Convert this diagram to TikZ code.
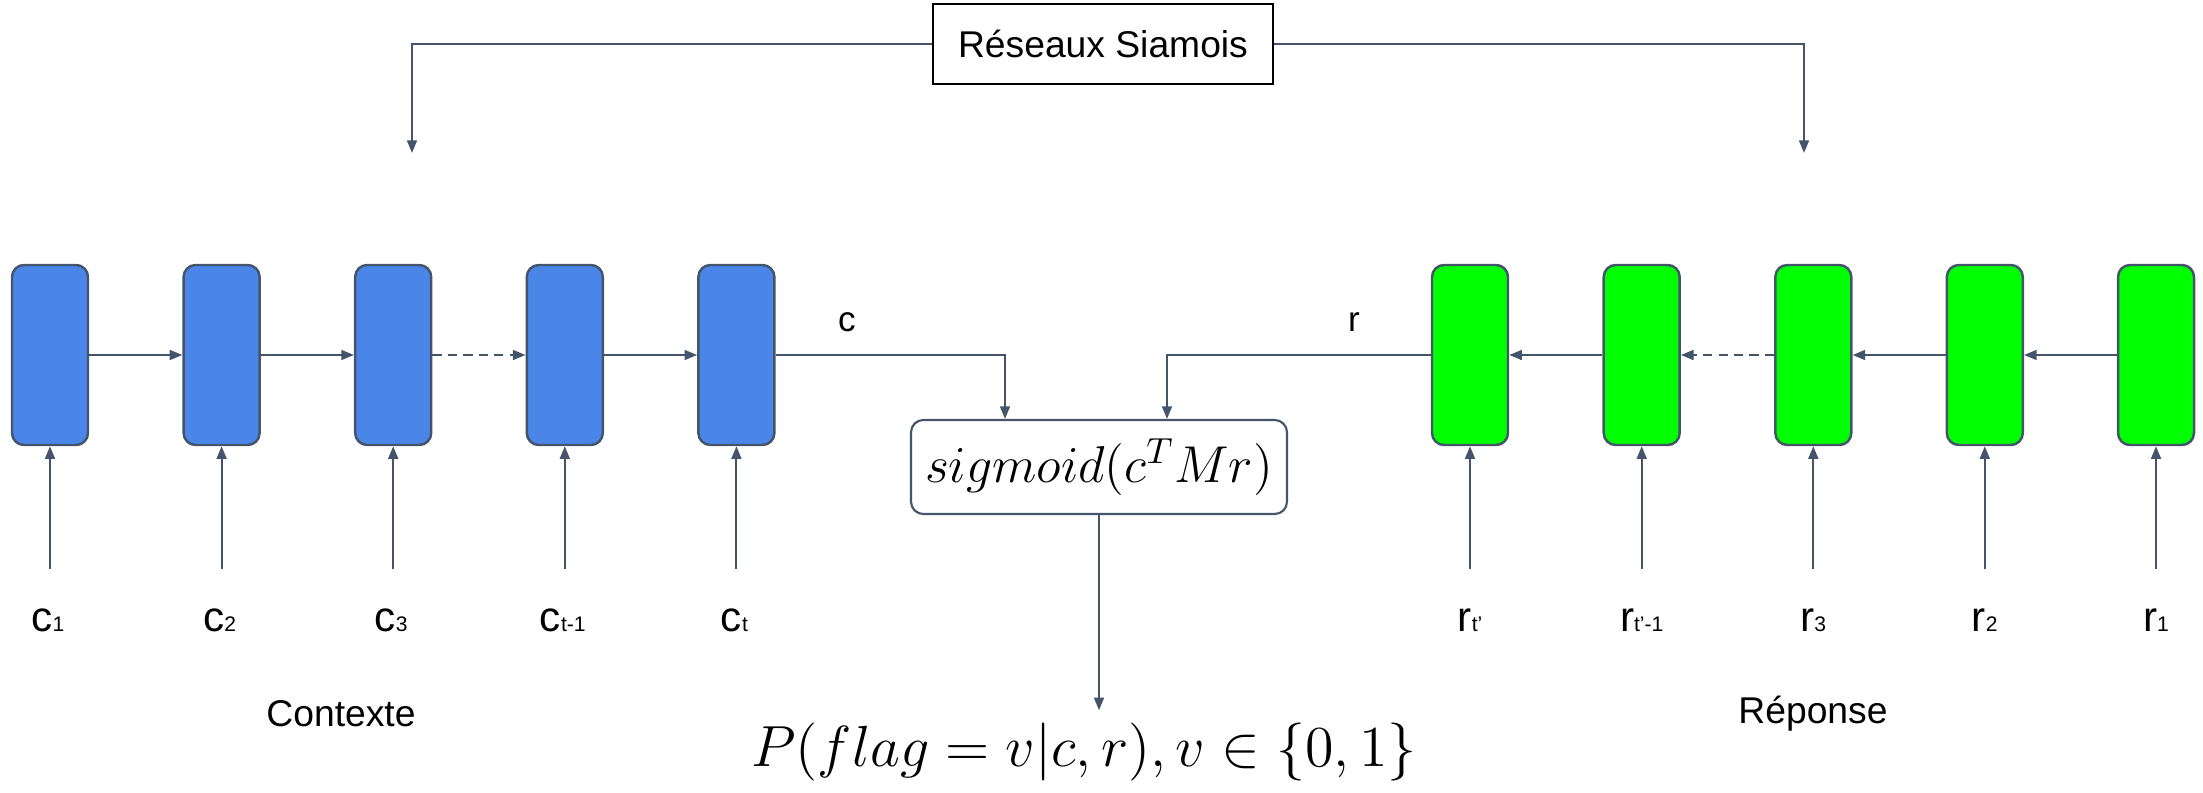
\RequirePackage{fix-cm}
\documentclass[tikz,border=0pt]{standalone}
\usepackage[no-math]{fontspec}
\setmainfont{Liberation Sans}
\usetikzlibrary{arrows.meta}
\definecolor{cblue}{HTML}{4A86E8}
\definecolor{rgreen}{HTML}{00FF00}
\definecolor{wire}{HTML}{44546A}
\newcommand\tsub[1]{{\fontsize{6}{7}\selectfont#1}}
\begin{document}
\begin{tikzpicture}[x=0.1mm,y=-0.1mm,line width=.6pt,
  cell/.style={draw=wire,line width=.7pt,rounded corners=3.4pt,minimum width=7.6mm,minimum height=18mm,inner sep=0pt},
  arr/.style={draw=wire,-{Triangle[length=3.6pt,width=2.8pt]}},
  dots/.style={dash pattern=on 2.6pt off 1.8pt},
  tok/.style={font=\fontsize{12}{14}\selectfont,inner sep=0pt,anchor=base},
  title/.style={font=\fontsize{10.6}{13}\selectfont}]
\useasboundingbox (0,0) rectangle (2203,793);
% contexte
\foreach \i/\x/\t in {1/50/1,2/221.6/2,3/393.2/3,4/564.8/t-1,5/736.4/t}{
  \node[cell,fill=cblue] (c\i) at (\x,355) {};
  \coordinate (cs\i) at (\x,569);
  \draw[arr] (cs\i) -- (c\i);
  \node[tok] (cl\i) at (\x-2,631) {c\tsub{\t}};}
\foreach \a/\b in {1/2,2/3,4/5} \draw[arr] (c\a) -- (c\b);
\draw[arr,dots] (c3) -- (c4);
% reponse
\foreach \i/\x/\t in {1/2156/1,2/1984.8/2,3/1813.3/3,4/1641.7/t’-1,5/1470/t’}{
  \node[cell,fill=rgreen] (r\i) at (\x,355) {};
  \coordinate (rs\i) at (\x,569);
  \draw[arr] (rs\i) -- (r\i);
  \node[tok] (rl\i) at (\x,631) {r\tsub{\t}};}
\foreach \a/\b in {1/2,2/3,4/5} \draw[arr] (r\a) -- (r\b);
\draw[arr,dots] (r3) -- (r4);
\node[title] (ctx) at (341,714) {Contexte};
\node[title] (rep) at (1813,714) {Réponse};
% score
\node[draw=wire,rounded corners=3.5pt,minimum width=37.6mm,minimum height=9.4mm,inner sep=0pt,
  font=\fontsize{14.75}{18}\selectfont] (sig) at (1099,467) {$sigmoid(c^TMr)$};
\node[font=\fontsize{10}{12}\selectfont] (lc) at (847,322) {c};
\node[font=\fontsize{10}{12}\selectfont] (lr) at (1354,322) {r};
\draw[arr] (c5) -| ([xshift=-9.4mm]sig.north);
\draw[arr] (r5) -| ([xshift=6.8mm]sig.north);
\node[font=\fontsize{16.5}{20}\selectfont] (prob) at (1084,752) {$P(flag=v|c,r), v\in\{0,1\}$};
\draw[arr] (sig.south) -- (sig.south |- prob.north);
% siamois
\node[draw=black,line width=.8pt,minimum width=34mm,minimum height=8mm,title] (siam) at (1103,44) {Réseaux Siamois};
\coordinate (tl) at (412,153); \coordinate (tr) at (1804,153);
\draw[arr] (siam) -| (tl); \draw[arr] (siam) -| (tr);
\end{tikzpicture}
\end{document}
